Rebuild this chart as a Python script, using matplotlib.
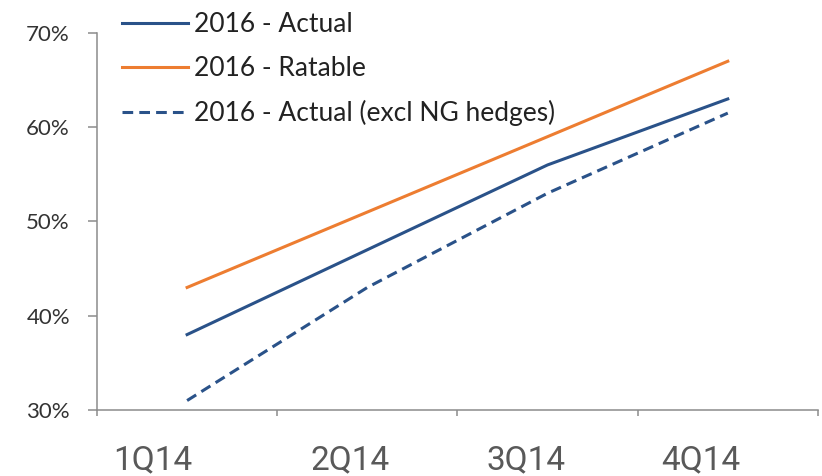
import matplotlib
matplotlib.use('Agg')
import matplotlib.pyplot as plt
from matplotlib.transforms import ScaledTranslation

quarters = ['1Q14', '2Q14', '3Q14', '4Q14']
actual = [38, 47, 56, 63]
ratable = [43, 51, 59, 67]
actual_excl = [31, 43, 53, 61.5]

blue = '#2a5289'
orange = '#ed7d31'
grey = '#8c8c8c'

fig = plt.figure(figsize=(8.22, 4.76), dpi=100)
ax = fig.add_axes([0.118, 0.1387, 0.877, 0.792])

xs = [i + 0.5 for i in range(len(quarters))]
ax.plot(xs, actual, color=blue, lw=2.2, label='2016 - Actual')
ax.plot(xs, ratable, color=orange, lw=2.2, label='2016 - Ratable')
ax.plot(xs, actual_excl, color=blue, lw=2.2, ls=(0, (3.5, 2)),
        label='2016 - Actual (excl NG hedges)')

ax.set_xlim(0, 4)
ax.set_ylim(30, 70)
ax.set_yticks([30, 40, 50, 60, 70])
ax.set_yticklabels(['%d%%' % v for v in [30, 40, 50, 60, 70]],
                   fontfamily='Lato', fontsize=16, color='#333333')

ax.set_xticks([0, 1, 2, 3, 4])
ax.set_xticklabels([])
ax.set_xticks(xs, minor=True)
ax.set_xticklabels(quarters, minor=True, fontfamily='Roboto', fontsize=24, color='#595959')
ax.tick_params(axis='x', which='minor', length=0, pad=25)
ax.tick_params(axis='x', which='major', length=4.5, width=1.1, color=grey)
ax.tick_params(axis='y', length=6.5, width=1.1, color=grey, pad=13)

# labels in the original sit a bit left of the category centres
label_shift = [-0.34, -0.17, -0.21, -0.27]
for lab, dx in zip(ax.xaxis.get_minorticklabels(), label_shift):
    lab.set_transform(lab.get_transform() + ScaledTranslation(dx, 0, fig.dpi_scale_trans))

for s in ['top', 'right']:
    ax.spines[s].set_visible(False)
for s in ['left', 'bottom']:
    ax.spines[s].set_color(grey)
    ax.spines[s].set_linewidth(1.1)

leg = fig.legend(loc='upper left', bbox_to_anchor=(0.119, 1.024), frameon=False,
                 prop={'family': 'Lato', 'size': 19}, handlelength=2.5,
                 handletextpad=0.23, labelspacing=0.72)
for t in leg.get_texts():
    t.set_color('#222222')

fig.savefig('out.png', dpi=100)
